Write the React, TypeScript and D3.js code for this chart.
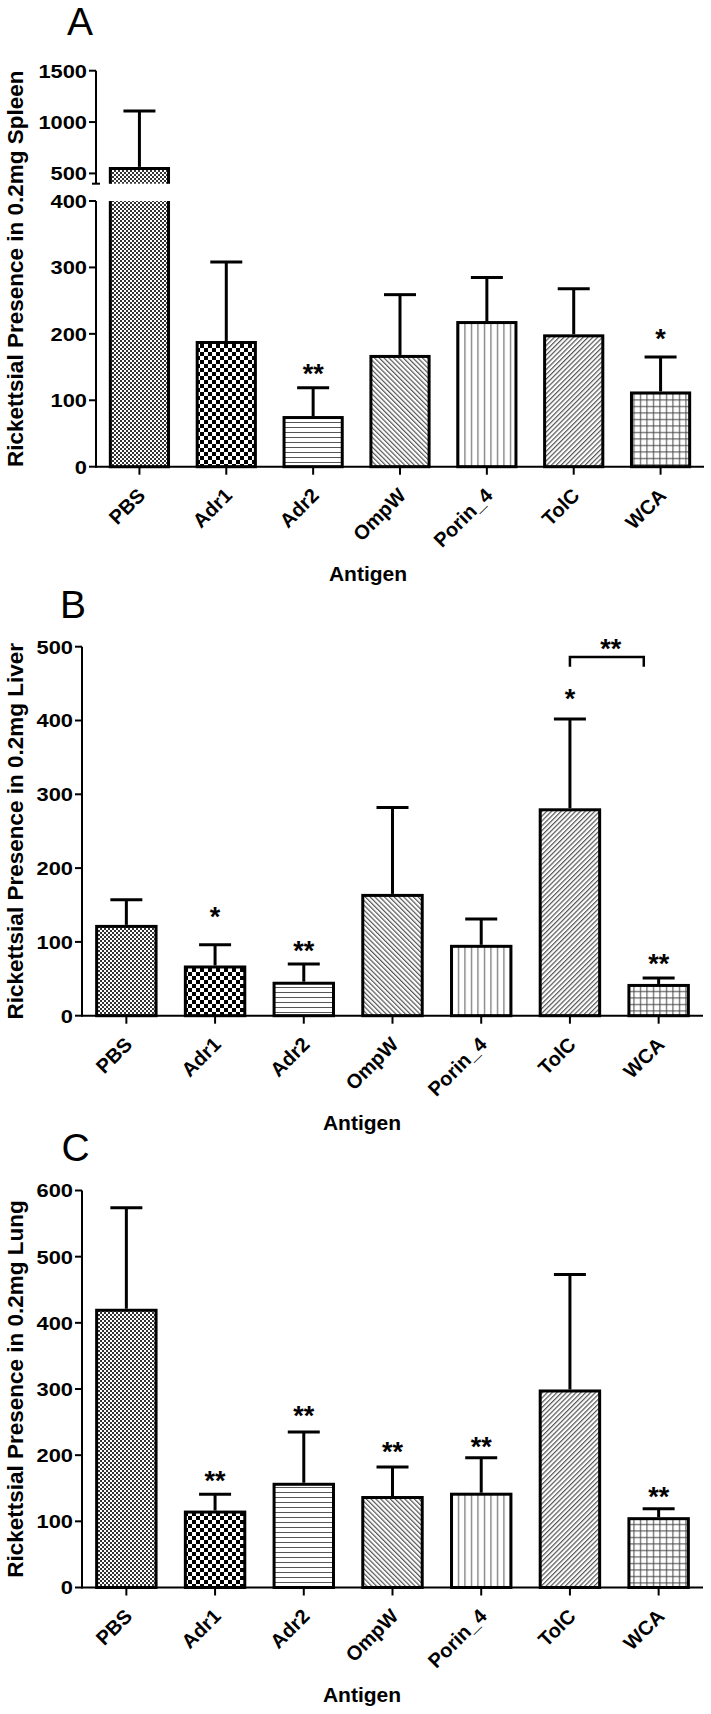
import React from "react";
import * as d3 from "d3";

const antigens = ["PBS", "Adr1", "Adr2", "OmpW", "Porin_4", "TolC", "WCA"];

const spleenMean = [549, 187, 74, 166, 217, 197, 111];
const spleenSD = [558, 121, 45, 93, 68, 71, 54];
const liverMean = [121, 66, 44, 163, 94, 279, 41];
const liverSD = [36, 30, 26, 119, 37, 123, 10];
const lungMean = [419, 114, 156, 136, 141, 297, 104];
const lungSD = [155, 27, 79, 46, 55, 176, 15];

const spleenTicksLow = [0, 100, 200, 300, 400];
const spleenTicksUp = [500, 1000, 1500];
const liverTicks = [0, 100, 200, 300, 400, 500];
const lungTicks = [0, 100, 200, 300, 400, 500, 600];

// significance marks: category, label, value (data units) at glyph centre
const spleenStars = [
  { cat: "Adr2", label: "**", at: 148 },
  { cat: "WCA", label: "*", at: 201 },
];
const liverStars = [
  { cat: "Adr1", label: "*", at: 141 },
  { cat: "Adr2", label: "**", at: 96 },
  { cat: "TolC", label: "*", at: 437 },
  { cat: "WCA", label: "**", at: 78 },
];
const liverBracket = { from: "TolC", to: "WCA", top: 486, foot: 473, label: "**", at: 505 };
const lungStars = [
  { cat: "Adr1", label: "**", at: 170 },
  { cat: "Adr2", label: "**", at: 268 },
  { cat: "OmpW", label: "**", at: 214 },
  { cat: "Porin_4", label: "**", at: 221 },
  { cat: "WCA", label: "**", at: 146 },
];

const patternIds = ["pDots", "pCheck", "pHoriz", "pBack", "pVert", "pFwd", "pGrid"];

const FONT = "'Liberation Sans', Arial, Helvetica, sans-serif";

function Patterns() {
  return (
    <defs>
      <pattern id="pDots" width="4" height="4" patternUnits="userSpaceOnUse">
        <rect width="4" height="4" fill="#fff" />
        <rect x="0" y="0" width="2" height="2" fill="#333" />
        <rect x="2" y="2" width="2" height="2" fill="#333" />
      </pattern>
      <pattern id="pCheck" width="8" height="8" patternUnits="userSpaceOnUse">
        <rect width="8" height="8" fill="#fff" />
        <rect x="0" y="0" width="4" height="4" fill="#000" />
        <rect x="4" y="4" width="4" height="4" fill="#000" />
      </pattern>
      <pattern id="pHoriz" width="5" height="5" patternUnits="userSpaceOnUse">
        <rect width="5" height="5" fill="#fff" />
        <rect x="0" y="2" width="5" height="1" fill="#555" />
      </pattern>
      <pattern id="pBack" width="3.4" height="3.4" patternUnits="userSpaceOnUse" patternTransform="rotate(-45)">
        <rect width="3.4" height="3.4" fill="#fff" />
        <rect x="1" y="0" width="1" height="3.4" fill="#333" />
      </pattern>
      <pattern id="pVert" width="6.5" height="6.5" patternUnits="userSpaceOnUse">
        <rect width="6.5" height="6.5" fill="#fff" />
        <rect x="3" y="0" width="1" height="6.5" fill="#555" />
      </pattern>
      <pattern id="pFwd" width="3.4" height="3.4" patternUnits="userSpaceOnUse" patternTransform="rotate(45)">
        <rect width="3.4" height="3.4" fill="#fff" />
        <rect x="1" y="0" width="1" height="3.4" fill="#333" />
      </pattern>
      <pattern id="pGrid" width="6.5" height="6.5" patternUnits="userSpaceOnUse">
        <rect width="6.5" height="6.5" fill="#fff" />
        <rect x="3" y="0" width="1" height="6.5" fill="#444" />
        <rect x="0" y="3" width="6.5" height="1" fill="#444" />
      </pattern>
    </defs>
  );
}

type Star = { cat: string; label: string; at: number };
type Bracket = { from: string; to: string; top: number; foot: number; label: string; at: number };

type PanelProps = {
  letter: string;
  letterX: number;
  letterY: number;
  yTitle: string;
  means: number[];
  sds: number[];
  stars: Star[];
  bracket?: Bracket;
  x0: number;
  x1: number;
  y0: number;
  lowMax: number;
  lowTopPx: number;
  lowTicks: number[];
  upper?: { min: number; max: number; bottomPx: number; topPx: number; ticks: number[] };
  xTitleX: number;
};

function Panel(p: PanelProps) {
  const x = d3.scaleBand<string>().domain(antigens).range([p.x0, p.x1]).paddingInner(0.33).paddingOuter(0.165);
  const yLow = d3.scaleLinear().domain([0, p.lowMax]).range([p.y0, p.lowTopPx]);
  const yUp = p.upper
    ? d3.scaleLinear().domain([p.upper.min, p.upper.max]).range([p.upper.bottomPx, p.upper.topPx])
    : null;
  const yv = (v: number) => (yUp && v > p.lowMax ? yUp(v) : yLow(v));
  const bw = x.bandwidth();
  const cx = (c: string) => (x(c) as number) + bw / 2;
  const axisTop = yUp ? yUp(p.upper!.max) : yLow(p.lowMax);

  const tickLabel = (v: number, yy: number) => (
    <g key={"tl" + v} transform={`translate(${p.x0 - 9},${yy}) scale(1.15,1)`}>
      <text textAnchor="end" dy="0.36em" fontSize={19} fontWeight="bold" fontFamily={FONT}>
        {v}
      </text>
    </g>
  );

  return (
    <g>
      <text x={p.letterX} y={p.letterY} fontSize={39} fontFamily={FONT}>
        {p.letter}
      </text>

      {/* bars */}
      {antigens.map((c, i) => {
        const m = p.means[i];
        const left = x(c) as number;
        const right = left + bw;
        const fill = `url(#${patternIds[i]})`;
        if (yUp && m > p.lowMax) {
          const lt = yLow(p.lowMax);
          const ut = yUp(m);
          const ub = yUp(p.upper!.min);
          return (
            <g key={c}>
              <rect x={left} y={lt} width={bw} height={p.y0 - lt} fill={fill} />
              <path d={`M${left},${lt}L${left},${p.y0}L${right},${p.y0}L${right},${lt}`} fill="none" stroke="#000" strokeWidth={3} />
              <rect x={left} y={ut} width={bw} height={ub - ut} fill={fill} />
              <path d={`M${left},${ub}L${left},${ut}L${right},${ut}L${right},${ub}`} fill="none" stroke="#000" strokeWidth={3} />
            </g>
          );
        }
        const t = yLow(m);
        return <rect key={c} x={left} y={t} width={bw} height={p.y0 - t} fill={fill} stroke="#000" strokeWidth={3} />;
      })}

      {/* error bars */}
      {antigens.map((c, i) => {
        const m = p.means[i];
        const top = yv(m + p.sds[i]);
        const xc = cx(c);
        return (
          <g key={"e" + c} stroke="#000" strokeWidth={3}>
            <line x1={xc} x2={xc} y1={yv(m) - 1.5} y2={top} />
            <line x1={xc - 16} x2={xc + 16} y1={top} y2={top} />
          </g>
        );
      })}

      {/* y axis */}
      <g stroke="#000" strokeWidth={2}>
        <line x1={p.x0} x2={p.x0} y1={yLow(p.lowMax)} y2={p.y0 + 1} />
        {p.lowTicks.map((v) => (
          <line key={"lt" + v} x1={p.x0 - 7} x2={p.x0} y1={yLow(v)} y2={yLow(v)} />
        ))}
        {yUp && (
          <>
            <line x1={p.x0} x2={p.x0} y1={yUp(p.upper!.max)} y2={yUp(p.upper!.min)} />
            <line x1={p.x0 - 4} x2={p.x0 + 4} y1={yUp(p.upper!.min)} y2={yUp(p.upper!.min)} />
            {p.upper!.ticks.map((v) => (
              <line key={"ut" + v} x1={p.x0 - 7} x2={p.x0} y1={yUp(v)} y2={yUp(v)} />
            ))}
          </>
        )}
      </g>
      {p.lowTicks.map((v) => tickLabel(v, yLow(v)))}
      {yUp && p.upper!.ticks.map((v) => tickLabel(v, yUp(v)))}

      {/* x axis */}
      <g stroke="#000" strokeWidth={2}>
        <line x1={p.x0} x2={p.x1} y1={p.y0} y2={p.y0} />
        {antigens.map((c) => (
          <line key={"xt" + c} x1={cx(c)} x2={cx(c)} y1={p.y0} y2={p.y0 + 8} />
        ))}
      </g>
      {antigens.map((c) => (
        <text
          key={"xl" + c}
          transform={`translate(${cx(c) + 7},${p.y0 + 30}) rotate(-45)`}
          textAnchor="end"
          fontSize={20}
          fontWeight="bold"
          fontFamily={FONT}
        >
          {c}
        </text>
      ))}

      {/* stars */}
      {p.stars.map((s) => (
        <text
          key={"s" + s.cat}
          x={cx(s.cat)}
          y={yv(s.at)}
          dy="0.55em"
          textAnchor="middle"
          fontSize={27}
          fontWeight="bold"
          fontFamily={FONT}
        >
          {s.label}
        </text>
      ))}
      {p.bracket && (() => {
        const b = p.bracket!;
        const xa = cx(b.from);
        const xb = cx(b.to) - bw * 0.25;
        return (
          <g>
            <path
              d={`M${xa},${yv(b.foot)}L${xa},${yv(b.top)}L${xb},${yv(b.top)}L${xb},${yv(b.foot)}`}
              fill="none"
              stroke="#000"
              strokeWidth={2.5}
            />
            <text x={(xa + xb) / 2 + 4} y={yv(b.at)} dy="0.55em" textAnchor="middle" fontSize={27} fontWeight="bold" fontFamily={FONT}>
              {b.label}
            </text>
          </g>
        );
      })()}

      {/* titles */}
      <text
        transform={`translate(23,${(axisTop + p.y0) / 2}) rotate(-90)`}
        textAnchor="middle"
        fontSize={22.5}
        fontWeight="bold"
        fontFamily={FONT}
      >
        {p.yTitle}
      </text>
      <text x={p.xTitleX} y={p.y0 + 114} textAnchor="middle" fontSize={21} fontWeight="bold" fontFamily={FONT}>
        Antigen
      </text>
    </g>
  );
}

export default function App() {
  return (
    <svg
      width={711}
      height={1714}
      viewBox="0 0 711 1714"
      style={{ position: "absolute", left: 0, top: 0, background: "#fff" }}
    >
      <Patterns />
      <rect width={711} height={1714} fill="#fff" />
      <Panel
        letter="A"
        letterX={67}
        letterY={35}
        yTitle="Rickettsial Presence in 0.2mg Spleen"
        means={spleenMean}
        sds={spleenSD}
        stars={spleenStars}
        x0={96}
        x1={704}
        y0={466.7}
        lowMax={400}
        lowTopPx={201}
        lowTicks={spleenTicksLow}
        upper={{ min: 400, max: 1500, bottomPx: 183.7, topPx: 70.7, ticks: spleenTicksUp }}
        xTitleX={368}
      />
      <Panel
        letter="B"
        letterX={60}
        letterY={618}
        yTitle="Rickettsial Presence in 0.2mg Liver"
        means={liverMean}
        sds={liverSD}
        stars={liverStars}
        bracket={liverBracket}
        x0={82}
        x1={703}
        y0={1015.7}
        lowMax={500}
        lowTopPx={646.7}
        lowTicks={liverTicks}
        xTitleX={362}
      />
      <Panel
        letter="C"
        letterX={61.5}
        letterY={1161}
        yTitle="Rickettsial Presence in 0.2mg Lung"
        means={lungMean}
        sds={lungSD}
        stars={lungStars}
        x0={82}
        x1={703}
        y0={1587.5}
        lowMax={600}
        lowTopPx={1190.5}
        lowTicks={lungTicks}
        xTitleX={362}
      />
    </svg>
  );
}
